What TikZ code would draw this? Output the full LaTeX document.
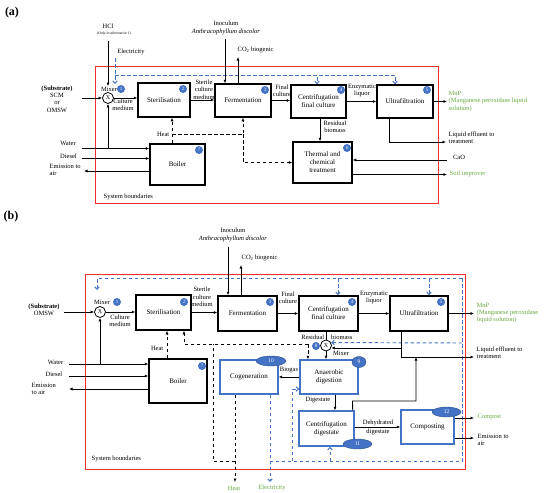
\documentclass[tikz,border=0pt]{standalone}
\usepackage{fontspec}
\setmainfont{Liberation Serif}
\usetikzlibrary{arrows.meta,shapes.geometric,calc}
\definecolor{myblue}{RGB}{68,114,196}
\definecolor{mygreen}{RGB}{104,168,62}
\definecolor{myred}{RGB}{245,45,45}
\begin{document}
\begin{tikzpicture}[x=1pt,y=-1pt,
 every node/.style={inner sep=0.5pt},
 lbl/.style={font=\fontsize{6.5}{7.4}\selectfont, align=center},
 boxA/.style={draw, line width=1.5pt, font=\fontsize{7}{8}\selectfont, align=center},
 boxB/.style={draw=myblue, line width=1.4pt, font=\fontsize{7}{8}\selectfont, align=center},
 badge/.style={circle, fill=myblue, text=white, minimum size=8pt, inner sep=0pt, font=\fontsize{5}{5}\selectfont},
 badgeE/.style={ellipse, fill=myblue, draw=myblue!70!black, line width=0.4pt, text=white, minimum width=28pt, minimum height=10pt, inner sep=0pt, font=\fontsize{5.5}{6}\selectfont},
 mixer/.style={circle, draw, line width=0.8pt, minimum size=11pt, inner sep=0pt, font=\fontsize{6}{6}\selectfont},
 arr/.style={-{Latex[length=3.5pt,width=3pt]}, line width=0.85pt},
 ln/.style={line width=0.85pt},
 hln/.style={line width=0.95pt, dash pattern=on 3.5pt off 2.5pt},
 ha/.style={hln, -{Latex[length=3.5pt,width=3pt]}},
 eln/.style={myblue, line width=0.95pt, dash pattern=on 3.5pt off 2.5pt},
 ea/.style={eln, -{Straight Barb[length=2.5pt,width=4.5pt]}}]
\useasboundingbox (0,0) rectangle (550,493);

%%%%%%%%%%%%%%%% Panel (a)
\node[font=\bfseries\fontsize{12}{12}\selectfont] (la) at (12,13) {(a)};
\draw[myred, line width=1pt] (95,66) rectangle (438,203);
\node[lbl, anchor=west] (sysA) at (103,197) {System boundaries};

\node[boxA, minimum width=52pt, minimum height=34pt] (sterA) at (164,100) {Sterilisation};
\node[boxA, minimum width=56pt, minimum height=33pt] (fermA) at (243,100.5) {Fermentation};
\node[boxA, minimum width=55pt, minimum height=33pt] (cfcA) at (318.5,101.5) {Centrifugation\\final culture};
\node[boxA, minimum width=56pt, minimum height=33pt] (ultraA) at (405,101.5) {Ultrafiltration};
\node[boxA, minimum width=59pt, minimum height=41pt] (thermA) at (322.5,162.5) {Thermal and\\chemical\\treatment};
\node[boxA, minimum width=55pt, minimum height=41pt] (boilerA) at (177.5,164.5) {Boiler};

\node[mixer] (mixA) at (108,98) {X};
\node[lbl] (mixlA) at (109,89) {Mixer};
\node[badge] (b1A) at (121,89) {1};
\node[badge] (b2A) at (183,89) {2};
\node[badge] (b3A) at (265,90) {3};
\node[badge] (b4A) at (341,90) {4};
\node[badge] (b5A) at (427,90) {5};
\node[badge] (b6A) at (347,148) {6};
\node[badge] (b7A) at (199,150) {7};

\node[lbl] (subA) at (57,99) {\textbf{(Substrate)}\\SCM\\or\\OMSW};
\coordinate (subAo) at (82,98);
\draw[arr] (subAo) -- (mixA);
\node[lbl] (cmA) at (123,105) {Culture\\medium};
\draw[arr] (mixA) -- (mixA -| sterA.west);

\node[lbl] (hclA) at (108,26) {HCl};
\node[font=\itshape\fontsize{3.8}{4}\selectfont] (hclnA) at (114,34) {(Only in alternative 1)};
\coordinate (hclAs) at (108,41);
\draw[arr] (hclAs) -- (hclAs |- mixlA.north);

\node[lbl] (elA) at (131,52) {Electricity};
\coordinate (eA1) at (115,58);
\coordinate (eA2) at (115,84);
\coordinate (eA3) at (115,75);
\draw[ea] (eA1) -- (eA2);
\draw[ea] (eA3) -| ([xshift=-1.5pt]cfcA.north);
\draw[ea] (eA3) -| ([xshift=-10pt]ultraA.north);

\node[lbl] (inocA) at (226,28) {Inoculum\\\textit{Anthracophyllum discolor}};
\coordinate (inA) at (225,39);
\draw[arr] (inA) -- (inA |- fermA.north);
\node[lbl, anchor=west] (co2A) at (237,50) {CO\textsubscript{2} biogenic};
\coordinate (co2At) at (238,57);
\draw[arr] (co2At |- fermA.north) -- (co2At);

\node[lbl] (scmA) at (204,89.5) {Sterile\\culture\\medium};
\draw[arr] (sterA.east) -- (sterA.east -| fermA.west);
\node[lbl] (fcA) at (282,90.5) {Final\\culture};
\draw[arr] (fermA.east) -- (fermA.east -| cfcA.west);
\node[lbl] (elqA) at (362,90.5) {Enzymatic\\liquor};
\draw[arr] (cfcA.east) -- (cfcA.east -| ultraA.west);
\node[lbl, anchor=west, align=left, text=mygreen] (mnpA) at (448,101.5) {MnP\\(Manganese peroxidase liquid\\solution)};
\draw[arr] (ultraA.east) -- ([xshift=-1pt]ultraA.east -| mnpA.west);

\draw[arr] ([xshift=1.5pt]cfcA.south) -- ([xshift=1.5pt]cfcA.south |- thermA.north);
\node[lbl] (rbA) at (335,126.5) {Residual\\biomass};

\coordinate (uA) at ([xshift=-16pt]ultraA.south);
\coordinate (liqAt) at (446,142);
\draw[arr] (uA) |- (liqAt);
\node[lbl, anchor=west, align=left] (liqA) at (448,138) {Liquid effluent to\\treatment};

\node[lbl] (caoA) at (459,157) {CaO};
\coordinate (caoAs) at (447,160);
\draw[arr] (caoAs) -- (caoAs -| thermA.east);
\node[lbl, anchor=west, text=mygreen] (soilA) at (449,174) {Soil improver};
\coordinate (soilAt) at (447,174.5);
\draw[arr] (soilAt -| thermA.east) -- (soilAt);

\coordinate (hA) at (172,134);
\draw[ha] (hA |- boilerA.north) -- (hA |- sterA.south);
\draw[ha] (hA) -| (fermA.south);
\draw[ha] (hA -| fermA.south) |- (thermA.west);
\node[lbl, anchor=east] (heatA) at (170,134) {Heat};

\node[lbl] (waterA) at (68,143) {Water};
\node[lbl] (dieselA) at (68.5,156) {Diesel};
\node[lbl, anchor=north west, align=left] (emA) at (49,163) {Emission to\\air};
\coordinate (wA) at (82,148.5);
\coordinate (dA) at (82,158.5);
\coordinate (eaA) at (84,171);
\draw[arr] (wA) -- (wA -| boilerA.west);
\draw[arr] (dA) -- (dA -| boilerA.west);
\draw[arr] (eaA -| boilerA.west) -- (eaA);
\draw[arr] (wA -| mixA) -- (mixA);

%%%%%%%%%%%%%%%% Panel (b)
\node[font=\bfseries\fontsize{12}{12}\selectfont] (lb) at (11,217) {(b)};
\draw[myred, line width=1pt] (85,274) rectangle (465,469);
\node[lbl, anchor=west] (sysB) at (91,459) {System boundaries};

\node[boxA, minimum width=55pt, minimum height=35pt] (sterB) at (163.5,312.5) {Sterilisation};
\node[boxA, minimum width=59pt, minimum height=35pt] (fermB) at (247.5,313.5) {Fermentation};
\node[boxA, minimum width=59pt, minimum height=35pt] (cfcB) at (328.5,313.5) {Centrifugation\\final culture};
\node[boxA, minimum width=58pt, minimum height=35pt] (ultraB) at (419,313.5) {Ultrafiltration};
\node[boxA, minimum width=58pt, minimum height=44pt] (boilerB) at (178,381) {Boiler};
\node[boxB, minimum width=58pt, minimum height=34pt] (cogB) at (249,377) {Cogeneration};
\node[boxB, minimum width=58pt, minimum height=34pt] (adB) at (329,377) {Anaerobic\\digestion};
\node[boxB, minimum width=55pt, minimum height=35pt] (cdB) at (326.5,428.5) {Centrifugation\\digestate};
\node[boxB, minimum width=53pt, minimum height=34pt] (compB) at (427.5,427) {Composting};

\node[mixer] (mixB) at (100,312) {X};
\node[mixer] (mix8) at (326,345.5) {X};
\node[lbl] (mixlB) at (102,302) {Mixer};
\node[lbl] (mixl8) at (341,353) {Mixer};

\node[badge] (b1B) at (117,302) {1};
\node[badge] (b2B) at (184,302) {2};
\node[badge] (b3B) at (270,302) {3};
\node[badge] (b4B) at (352,302) {4};
\node[badge] (b5B) at (441,302) {5};
\node[badge] (b7B) at (202,366) {7};
\node[badge] (b8B) at (316,346) {8};
\node[badgeE, minimum width=14pt, minimum height=11pt] (b9B) at (359,362) {9};
\node[badgeE, minimum width=30pt] (b10B) at (271,361) {10};
\node[badgeE, minimum width=29pt] (b11B) at (357.5,444) {11};
\node[badgeE, minimum width=29pt] (b12B) at (446.5,412) {12};

\node[lbl] (subB) at (44,309.5) {\textbf{(Substrate)}\\OMSW};
\coordinate (subBo) at (64,312);
\draw[arr] (subBo) -- (mixB);
\node[lbl] (cmB) at (120,320.5) {Culture\\medium};
\draw[arr] (mixB) -- (mixB -| sterB.west);
\node[lbl] (scmB) at (202,297) {Sterile\\culture\\medium};
\draw[arr] (sterB.east) -- (sterB.east -| fermB.west);
\node[lbl] (fcB) at (288,297.5) {Final\\culture};
\draw[arr] (fermB.east) -- (fermB.east -| cfcB.west);
\node[lbl] (elqB) at (374,297.5) {Enzymatic\\liquor};
\draw[arr] (cfcB.east) -- (cfcB.east -| ultraB.west);
\node[lbl, anchor=west, align=left, text=mygreen] (mnpB) at (476,313) {MnP\\(Manganese peroxidase\\liquid solution)};
\draw[arr] (ultraB.east) -- ([xshift=-2pt]ultraB.east -| mnpB.west);

\node[lbl] (inocB) at (233,235) {Inoculum\\\textit{Anthracophyllum discolor}};
\coordinate (inB) at (228,247);
\draw[arr] (inB) -- (inB |- fermB.north);
\node[lbl, anchor=west] (co2B) at (241,258) {CO\textsubscript{2} biogenic};
\coordinate (co2Bt) at (241,265);
\draw[arr] (co2Bt |- fermB.north) -- (co2Bt);

% electricity network (blue dashed)
\coordinate (eTL) at (97,278);
\coordinate (eTR) at (462,278);
\coordinate (eBR) at (462,461);
\coordinate (eM) at (462,343);
\coordinate (eMx) at (97,290);
\coordinate (eC4) at (338,278);
\coordinate (eC5) at (429,278);
\coordinate (elB) at (270,482);
\coordinate (eAD) at (292,461);
\coordinate (eCD) at (330,461);
\draw[ea] (eTR) -- (eTL) -- (eMx);
\draw[ea] (eC4) -- (eC4 |- cfcB.north);
\draw[ea] (eC5) -- (eC5 |- ultraB.north);
\draw[eln] (eTR) -- (eBR) -- (eBR -| elB);
\draw[ea] ([xshift=21pt]cogB.south) -- (elB);
\draw[ea] (eM) -- (mix8.30);
\draw[ea] (eAD) |- ([yshift=-12pt]adB.west);
\draw[ea] (eCD) -- (eCD |- cdB.south);
\node[lbl, text=mygreen] (elLB) at (272,488) {Electricity};

% heat network (black dashed)
\coordinate (hB) at (235,482);
\coordinate (hL1) at (213,461);
\coordinate (hL2) at (213,344);
\coordinate (hL3) at (184,344);
\coordinate (hL4) at (308,344);
\draw[ha] ([xshift=-14pt]cogB.south) -- (hB);
\draw[hln] (hB |- hL1) -- (hL1) -- (hL2);
\draw[ha] (hL4) -- (hL3) -- (hL3 |- sterB.south);
\draw[ha] (hL4) -- (hL4 |- adB.north);
\node[lbl, text=mygreen] (heatLB) at (234,488) {Heat};

\coordinate (hBo) at (167,348);
\draw[ha] (hBo |- boilerB.north) -- (hBo |- sterB.south);
\node[lbl, anchor=east] (heatB) at (164,348) {Heat};

\node[lbl] (waterB) at (55.5,362) {Water};
\node[lbl] (dieselB) at (54,374) {Diesel};
\node[lbl, anchor=north west, align=left] (emB) at (31,382) {Emission\\to air};
\coordinate (wB) at (69,364);
\coordinate (dB) at (69,376);
\coordinate (eaB) at (69,389);
\draw[arr] (wB) -- (wB -| boilerB.west);
\draw[arr] (dB) -- (dB -| boilerB.west);
\draw[arr] (eaB -| boilerB.west) -- (eaB);
\draw[arr] (wB -| mixB) -- (mixB);

\node[lbl] (rbB) at (327,337) {Residual\hspace{7pt}biomass};
\draw[ln] ([xshift=-2.5pt]cfcB.south) -- (mix8);
\draw[arr] (mix8) -- (mix8 |- adB.north);

\coordinate (uB) at ([xshift=-18pt]ultraB.south);
\coordinate (lqB) at (474,357);
\draw[arr] (uB) |- (lqB);
\draw[arr] (uB |- mix8.-25) -- (mix8.-25);
\node[lbl, anchor=west, align=left] (liqB) at (476,353) {Liquid effluent to\\treatment};
\coordinate (cdT) at ([xshift=-2pt]cdB.north east);
\coordinate (cdK) at (352.5,401);
\coordinate (lqJ) at (416,357);
\draw[arr] (cdT) -- (cdK) -| (lqJ);

\draw[arr] (adB.west) -- (cogB.east);
\node[lbl] (bgB) at (289,370) {Biogas};
\draw[arr] ([xshift=6pt]adB.south) -- ([xshift=6pt]adB.south |- cdB.north);
\node[lbl] (dgB) at (318,400) {Digestate};
\draw[arr] ([yshift=1.5pt]cdB.east) -- ([yshift=1.5pt]cdB.east -| compB.west);
\node[lbl, font=\fontsize{6.5}{9}\selectfont] (ddB) at (378,427) {Dehydrated\\digestate};

\coordinate (cpB) at (474,418);
\draw[arr] (cpB -| compB.east) -- (cpB);
\node[lbl, anchor=west, text=mygreen] (cpLB) at (477,417) {Compost};
\coordinate (emB2) at (474,438);
\draw[arr] (emB2 -| compB.east) -- (emB2);
\node[lbl, anchor=north west, align=left] (emLB2) at (477,433) {Emission to\\air};
\end{tikzpicture}
\end{document}
